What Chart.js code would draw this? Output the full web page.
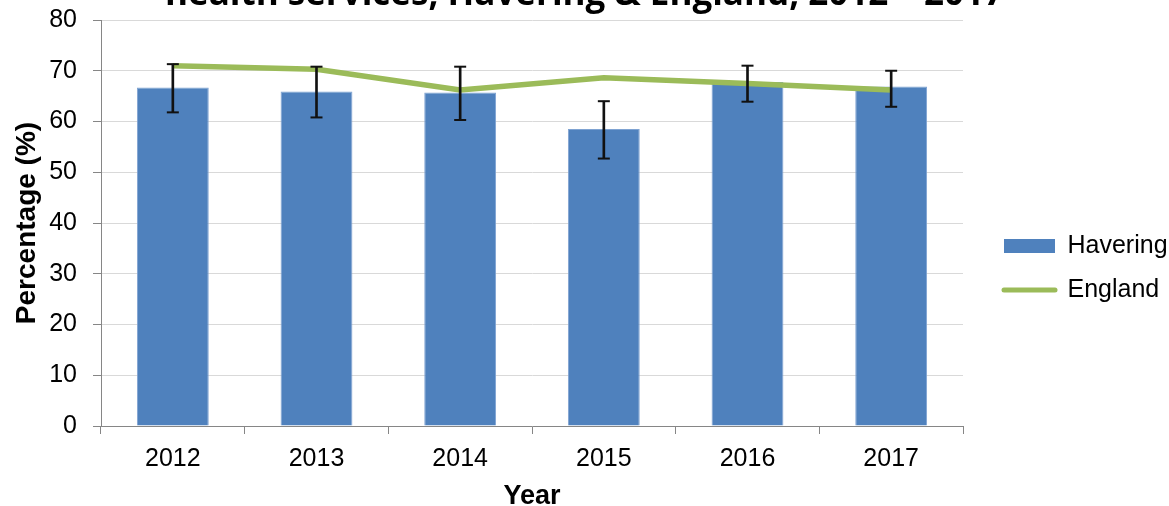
<!DOCTYPE html>
<html>
<head>
<meta charset="utf-8">
<script src="https://cdn.jsdelivr.net/npm/chart.js@4.4.0/dist/chart.umd.min.js"></script>
<style>
html,body{margin:0;padding:0;background:#fff;}
#clip{width:1169px;height:506px;overflow:hidden;position:relative;}
#wrap{position:absolute;left:0;top:-22px;width:1169px;height:528px;}
</style>
</head>
<body>
<div id="clip"><div id="wrap"><canvas id="c"></canvas></div></div>
<script>
// ---- data ----
const categories = ['2012', '2013', '2014', '2015', '2016', '2017'];
const havering = [66.7, 65.9, 65.7, 58.5, 67.8, 66.9];
const haveringLower = [61.8, 60.8, 60.3, 52.7, 63.9, 62.9];
const haveringUpper = [71.3, 70.8, 70.8, 64.0, 71.0, 70.0];
const england = [71.0, 70.3, 66.2, 68.6, 67.5, 66.2];
const yTicks = [0, 10, 20, 30, 40, 50, 60, 70, 80];
const titleText = 'health services, Havering & England, 2012 \u2013 2017';
const xTitle = 'Year';
const yTitle = 'Percentage (%)';

const FONT = "'Liberation Sans', Arial, sans-serif";
const BLUE = '#4F81BD';
const GREEN = '#9BBB59';
const AXIS = '#868686';

const errorRanges = categories.map((c, i) => [haveringLower[i], haveringUpper[i]]);

new Chart(document.getElementById('c'), {
  data: {
    labels: categories,
    datasets: [
      {
        type: 'bar', label: 'Havering', data: havering,
        backgroundColor: BLUE, borderColor: '#7FA3D2', borderWidth: 1,
        categoryPercentage: 1, barPercentage: 0.5, order: 3
      },
      {
        type: 'line', label: 'England', data: england,
        borderColor: GREEN, borderWidth: 5.5, pointRadius: 0, tension: 0,
        fill: false, order: 2
      },
      {
        type: 'bar', label: 'err', data: errorRanges,
        backgroundColor: '#111', borderWidth: 0, barThickness: 2,
        grouped: false, order: 1
      },
      {
        type: 'line', label: 'errHigh', data: haveringUpper, showLine: false,
        pointStyle: 'line', pointRadius: 6, pointBorderWidth: 2,
        pointBorderColor: '#111', pointBackgroundColor: '#111', order: 0
      },
      {
        type: 'line', label: 'errLow', data: haveringLower, showLine: false,
        pointStyle: 'line', pointRadius: 6, pointBorderWidth: 2,
        pointBorderColor: '#111', pointBackgroundColor: '#111', order: 0
      }
    ]
  },
  options: {
    responsive: true,
    maintainAspectRatio: false,
    devicePixelRatio: 1,
    animation: false,
    layout: { padding: { left: 0, right: 0, top: 0, bottom: 0 } },
    plugins: {
      tooltip: { enabled: false },
      title: {
        display: true, text: titleText, color: '#000',
        font: { family: "'Open Sans', sans-serif", size: 35, weight: 'bold', lineHeight: 1 },
        padding: { top: 0, bottom: 7 }
      },
      legend: {
        position: 'right',
        align: 'center',
        maxWidth: 184,
        title: { display: true, text: ' ', font: { size: 10, lineHeight: 1 }, padding: { top: 42, bottom: 0 } },
        labels: {
          usePointStyle: true, pointStyleWidth: 51, boxHeight: 14,
          padding: 19, color: '#000',
          font: { family: FONT, size: 25 },
          generateLabels: () => [
            { text: 'Havering', fillStyle: BLUE, strokeStyle: BLUE, fontColor: '#000', lineWidth: 0, pointStyle: 'rect', datasetIndex: 0, hidden: false },
            { text: 'England', fillStyle: 'rgba(0,0,0,0)', strokeStyle: GREEN, fontColor: '#000', lineWidth: 5, lineCap: 'round', pointStyle: 'line', datasetIndex: 1, hidden: false }
          ]
        }
      }
    },
    scales: {
      x: {
        offset: true,
        grid: { display: true, drawOnChartArea: false, drawTicks: true, tickLength: 8, tickColor: AXIS, offset: true },
        border: { display: true, color: AXIS, width: 1 },
        ticks: { font: { family: FONT, size: 25 }, color: '#000', padding: 10 },
        title: {
          display: true, text: xTitle, color: '#000',
          font: { family: FONT, size: 27, weight: 'bold', lineHeight: 0.7 },
          padding: { top: 0, bottom: 0 }
        },
        afterFit: s => { s.height = 80; }
      },
      y: {
        min: 0, max: 80,
        afterBuildTicks: s => { s.ticks = yTicks.map(v => ({ value: v })); },
        ticks: { font: { family: FONT, size: 25 }, color: '#000', padding: 16 },
        grid: { color: '#D9D9D9', lineWidth: 1, drawTicks: true, tickLength: 8, tickColor: AXIS },
        border: { display: true, color: AXIS, width: 1 },
        title: {
          display: true, text: yTitle, color: '#000',
          font: { family: FONT, size: 28, weight: 'bold', lineHeight: 1.2 },
          padding: { top: 10, bottom: 0 }
        },
        afterFit: s => { s.width = 101; }
      },
      yR: {
        position: 'right', display: true, min: 0, max: 80,
        grid: { display: false }, border: { display: false }, ticks: { display: false },
        afterFit: s => { s.width = 22; }
      }
    }
  }
});
</script>
</body>
</html>
